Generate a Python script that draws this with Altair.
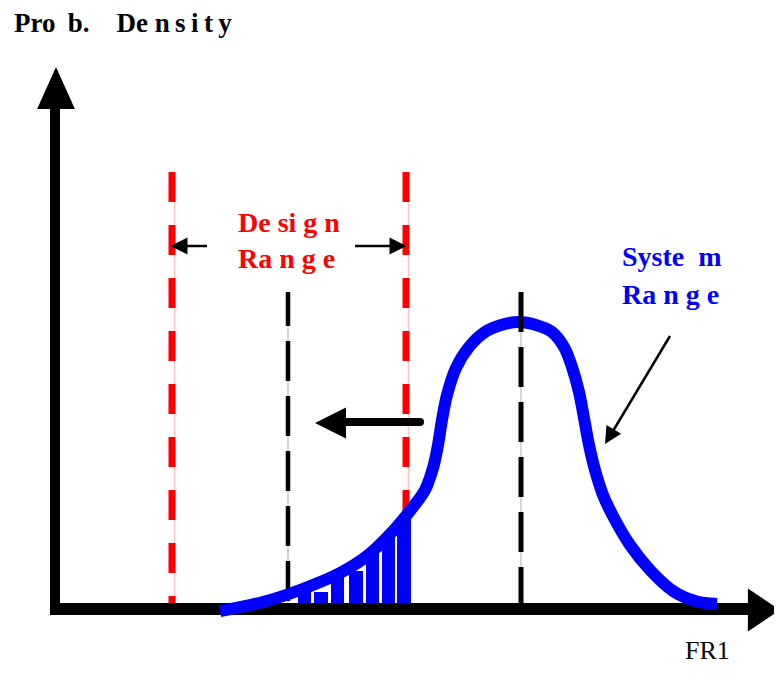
import altair as alt
import pandas as pd

# Diagram coordinates: origin at the corner of the axes, 1 unit ~ 1 px
X_MIN, X_MAX = -47, 719
Y_MIN, Y_MAX = -56, 601
W, H = 766, 657

# System range density curve
curve_x = [165, 208, 245, 285, 312, 338, 358, 370, 378, 383, 387, 392, 401, 414, 430, 446,
           464, 481, 497, 509, 517, 524, 529, 534, 540, 548, 559, 575, 595, 618, 640, 662]
curve_y = [-2, 7, 19, 36, 53, 78, 102, 119, 141, 164, 189, 214, 241, 262, 277, 284,
           287, 284, 277, 262, 242, 217, 191, 164, 139, 114, 91, 64, 39, 18, 8, 5]

# hatched area inside the design range
bar_x0 = [243, 259, 276, 294, 311, 327, 342]
bar_x1 = [256, 273, 289, 308, 324, 340, 356]
bar_top = [19, 17, 32, 38, 57, 72, 91]

design_lo, design_hi = 117, 351
design_top = 437
design_target = 233
target_top = 317
system_mean = 466
mean_top = 317

NB = "\u00a0"
TS = "\u2009"
title_text = "Pro" + TS + " b." + NB * 4 + "De" + NB + "n" + TS + "s" + TS + "i" + TS + "t" + TS + "y"
design_lines = ["De si g n", "Ra n g e"]
system_lines = ["Syste" + NB * 2 + "m", "Ra n g e"]
axis_label = "FR1"

xs = alt.Scale(domain=[X_MIN, X_MAX], nice=False, zero=False)
ys = alt.Scale(domain=[Y_MIN, Y_MAX], nice=False, zero=False)


def X(f="x"):
    return alt.X(f"{f}:Q", scale=xs, axis=None)


def Y(f="y"):
    return alt.Y(f"{f}:Q", scale=ys, axis=None)


def vrule(x, y0, y1, **kw):
    df = pd.DataFrame({"x": [x], "y": [y0], "y2": [y1]})
    return alt.Chart(df).mark_rule(**kw).encode(x=X(), y=Y(), y2=alt.Y2("y2:Q"))


def hrule(x0, x1, y, **kw):
    df = pd.DataFrame({"x": [x0], "x2": [x1], "y": [y]})
    return alt.Chart(df).mark_rule(**kw).encode(x=X(), x2=alt.X2("x2:Q"), y=Y())


def seg(x0, y0, x1, y1, **kw):
    df = pd.DataFrame({"x": [x0, x1], "y": [y0, y1], "o": [0, 1]})
    return alt.Chart(df).mark_line(**kw).encode(x=X(), y=Y(), order="o:Q")


def head(x, y, path, size, angle=0, color="black"):
    df = pd.DataFrame({"x": [x], "y": [y]})
    return alt.Chart(df).mark_point(shape=path, size=size, filled=True, opacity=1,
                                    color=color, strokeWidth=0, angle=angle).encode(x=X(), y=Y())


def label(x, y, lines, color, size, weight="bold", dy=36):
    df = pd.DataFrame({"x": [x] * len(lines), "y": [y - i * dy for i in range(len(lines))], "t": lines})
    return alt.Chart(df).mark_text(align="left", baseline="alphabetic", font="Liberation Serif",
                                   fontSize=size, fontWeight=weight, color=color).encode(
        x=X(), y=Y(), text="t:N")


LEFT = "M1,-1L-1,0L1,1Z"
RIGHT = "M-1,-1L1,0L-1,1Z"
UP = "M-0.9,1L0,-1L0.9,1Z"
AX_RIGHT = "M-0.75,-1L0.75,0L-0.75,1Z"

layers = []
# red dashed design limits
for xv in (design_lo, design_hi):
    layers.append(vrule(xv + 2.5, design_top, 4, color="#ffc4c4", strokeWidth=1.5))
    layers.append(vrule(xv, design_top, 4, color="#ff0000", strokeWidth=7, strokeDash=[30, 23]))
# black dashed target line
layers.append(vrule(design_target, target_top, 4, color="#c8c8c8", strokeWidth=1.5))
layers.append(vrule(design_target, target_top, 4, color="black", strokeWidth=4.5,
                    strokeDash=[40, 15], strokeDashOffset=6))
# axes
layers.append(vrule(0, 509, -6, color="black", strokeWidth=10))
layers.append(hrule(-5, 697, 0, color="black", strokeWidth=12))
layers.append(head(1, 521, UP, 1764))
layers.append(head(709, -1, AX_RIGHT, 1849))
# hatch bars
bars = pd.DataFrame({"x": bar_x0, "x2": bar_x1, "y": bar_top, "y2": [6] * len(bar_x0)})
layers.append(alt.Chart(bars).mark_bar(color="#0000ff").encode(
    x=X(), x2=alt.X2("x2:Q"), y=Y(), y2=alt.Y2("y2:Q")))
# density curve
curve = pd.DataFrame({"x": curve_x, "y": curve_y})
layers.append(alt.Chart(curve).mark_line(color="#0000ff", strokeWidth=12, interpolate="catmull-rom",
                                          strokeCap="butt").encode(x=X(), y=Y()))
# mean line
layers.append(vrule(system_mean, mean_top, 4, color="#c8c8c8", strokeWidth=1.5))
layers.append(vrule(system_mean, mean_top, 4, color="black", strokeWidth=5, strokeDash=[40, 15]))
# shift arrow
layers.append(hrule(290, 365, 187, color="black", strokeWidth=8, strokeCap="round"))
layers.append(head(275.5, 186, LEFT, 961))
# design range arrows
layers.append(hrule(124, 152, 363, color="black", strokeWidth=2.5))
layers.append(head(124, 363, LEFT, 289))
layers.append(hrule(300, 343, 363, color="black", strokeWidth=2.5))
layers.append(head(343, 363, RIGHT, 289))
# pointer to system range
layers.append(seg(615, 273, 555, 173, color="black", strokeWidth=2.5))
layers.append(head(554.4, 172.3, RIGHT, 289, angle=121))
# texts
layers.append(label(-41, 577, [title_text], "black", 27))
layers.append(label(183, 377, design_lines, "#ff0000", 28))
layers.append(label(567, 343, system_lines, "#0000ff", 28, dy=38))
layers.append(label(630, -50, [axis_label], "black", 26, weight="normal"))

chart = alt.layer(*layers).properties(
    width=W, height=H, padding=0, autosize=alt.AutoSizeParams(type="none")
).configure_view(stroke=None)

chart.save("out.html", embed_options={"renderer": "svg", "actions": False})
